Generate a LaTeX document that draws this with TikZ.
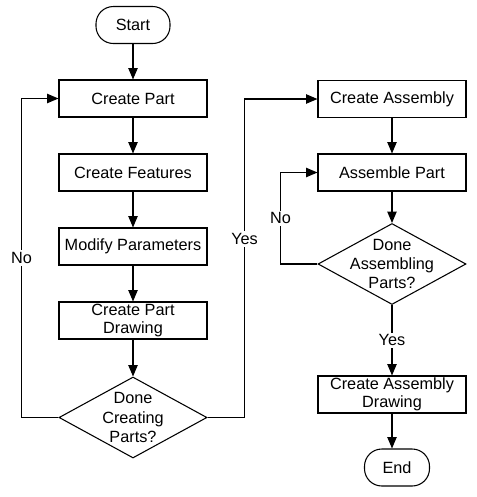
\documentclass[tikz,border=0pt]{standalone}
\usepackage{fontspec}
\setmainfont{Liberation Sans}
\usetikzlibrary{arrows.meta,shapes.geometric}

\begin{document}
\begin{tikzpicture}[x=0.75pt, y=-0.75pt,
    font=\fontsize{12.2}{14.5}\selectfont,
    box/.style={rectangle, draw, line width=0.8pt, align=center,
      font=\fontsize{12.2}{13.6}\selectfont,
      minimum width=111pt, minimum height=27.75pt, inner sep=0pt},
    term/.style={rectangle, draw, line width=0.8pt, rounded corners=13pt,
      minimum height=27.75pt, inner sep=0pt},
    decide/.style={diamond, draw, line width=0.8pt, align=center, aspect=1.83,
      minimum width=111pt, minimum height=60.75pt, inner sep=-8pt},
    arrow/.style={line width=0.8pt, -{Triangle[length=8.5pt, width=7pt]}},
    lbl/.style={fill=white, inner sep=1.5pt}]
    \useasboundingbox (0,0) rectangle (476,497);

    % ノード（左の列）
    \node[term, minimum width=55.5pt] (start) at (133,25) {Start};
    \node[box] (cpart) at (133,98.5) {Create Part};
    \node[box] (cfeat) at (133,172.5) {Create Features};
    \node[box] (modpar) at (133,246.5) {Modify Parameters};
    \node[box] (cpdraw) at (133,320.5) {Create Part\\Drawing};
    \node[decide] (done1) at (133,417.5) {Done\\Creating\\Parts?};

    % ノード（右の列）
    \node[box] (cassy) at (392,99) {Create Assembly};
    \node[box] (asmpart) at (392,172.5) {Assemble Part};
    \node[decide] (done2) at (392,264) {Done\\Assembling\\Parts?};
    \node[box] (cadraw) at (392,394.5) {Create Assembly\\Drawing};
    \node[term, minimum width=48.75pt] (end) at (397,467.5) {End};

    % エッジ
    \draw[arrow] (start) -- (cpart);
    \draw[arrow] (cpart) -- (cfeat);
    \draw[arrow] (cfeat) -- (modpar);
    \draw[arrow] (modpar) -- (cpdraw);
    \draw[arrow] (cpdraw) -- (done1);
    \draw[arrow] (done1.west) -- ++(-37,0) |- node[lbl, pos=0.25] (no1) {No} (cpart.west);
    \draw[arrow] (done1.east) -- ++(37,0) |- node[lbl, pos=0.28] (yes1) {Yes} (cassy.west);
    \draw[arrow] (cassy) -- (asmpart);
    \draw[arrow] (asmpart) -- (done2);
    \draw[arrow] (done2.west) -- ++(-37,0) |- node[lbl, pos=0.25] (no2) {No} (asmpart.west);
    \draw[arrow] (done2) -- node[lbl] (yes2) {Yes} (cadraw);
    \draw[arrow] (cadraw) -- (cadraw.south |- end.north);
\end{tikzpicture}
\end{document}
